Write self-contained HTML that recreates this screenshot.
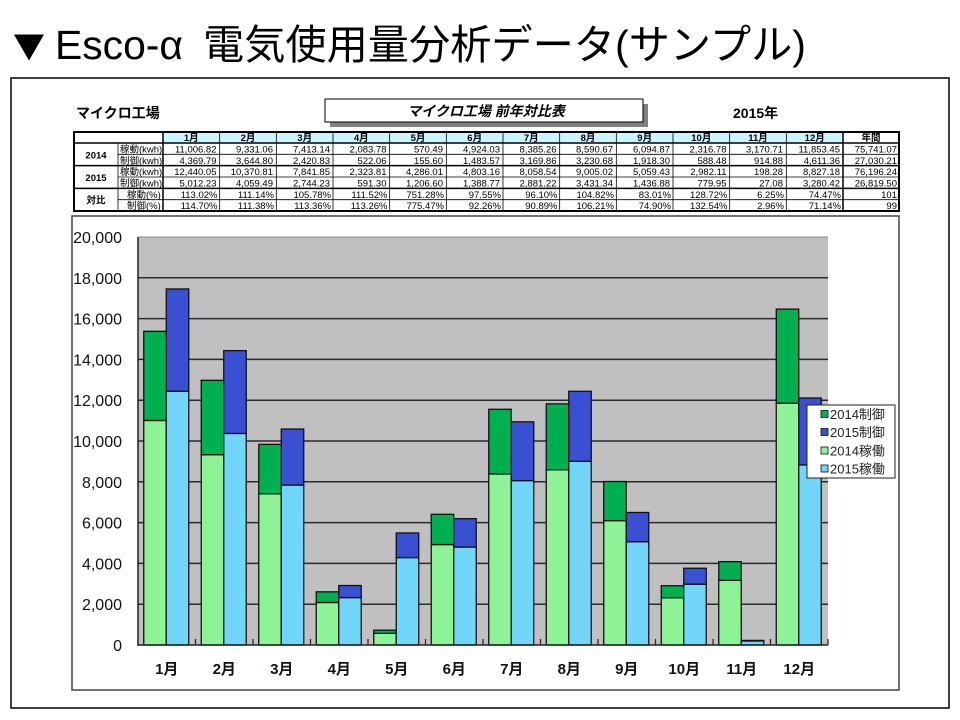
<!DOCTYPE html>
<html><head><meta charset="utf-8"><style>
html,body{margin:0;padding:0;background:#fff;}
svg{display:block;}
text{font-family:"Liberation Sans","Noto Sans CJK JP",sans-serif;}
</style></head><body>
<svg width="960" height="720" viewBox="0 0 960 720" xmlns="http://www.w3.org/2000/svg">
<rect width="960" height="720" fill="#fff"/>
<!-- Main title -->
<text x="13" y="58" font-size="32" fill="#000" style="font-family:'Noto Sans CJK JP',sans-serif">▼</text>
<text x="55" y="59" font-size="41" fill="#000" textLength="128" lengthAdjust="spacingAndGlyphs">Esco-α</text>
<text x="203" y="59" font-size="41" fill="#000" textLength="603" lengthAdjust="spacingAndGlyphs">電気使用量分析データ(サンプル)</text>

<!-- Outer frame -->
<rect x="11" y="78" width="938" height="630" fill="none" stroke="#000" stroke-width="1.5"/>

<!-- Header -->
<text x="76" y="118" font-size="14" font-weight="bold" fill="#000">マイクロ工場</text>
<rect x="330" y="104" width="318" height="23" fill="#808080"/>
<rect x="325" y="99" width="318" height="23" fill="#fff" stroke="#000" stroke-width="1"/>
<text x="486" y="116" font-size="14" font-weight="bold" font-style="italic" text-anchor="middle" fill="#000">マイクロ工場 前年対比表</text>
<text x="733" y="118" font-size="14" font-weight="bold" fill="#000">2015年</text>

<!-- Table -->
<g>
<rect x="163" y="132" width="680" height="11" fill="#ccf4ff"/>
<g stroke="#000" stroke-width="0.8" fill="none">
<line x1="118" y1="154.33" x2="899" y2="154.33"/>
<line x1="118" y1="177" x2="899" y2="177"/>
<line x1="118" y1="199.67" x2="899" y2="199.67"/>
<line x1="118" y1="143" x2="118" y2="211"/>
<line x1="219.67" y1="132" x2="219.67" y2="211"/>
<line x1="276.33" y1="132" x2="276.33" y2="211"/>
<line x1="333" y1="132" x2="333" y2="211"/>
<line x1="389.67" y1="132" x2="389.67" y2="211"/>
<line x1="446.33" y1="132" x2="446.33" y2="211"/>
<line x1="503" y1="132" x2="503" y2="211"/>
<line x1="559.67" y1="132" x2="559.67" y2="211"/>
<line x1="616.33" y1="132" x2="616.33" y2="211"/>
<line x1="673" y1="132" x2="673" y2="211"/>
<line x1="729.67" y1="132" x2="729.67" y2="211"/>
<line x1="786.33" y1="132" x2="786.33" y2="211"/>
</g>
<g stroke="#000" stroke-width="1.5" fill="none">
<line x1="74" y1="143" x2="899" y2="143"/>
<line x1="74" y1="165.67" x2="899" y2="165.67"/>
<line x1="74" y1="188.33" x2="899" y2="188.33"/>
<line x1="163" y1="132" x2="163" y2="211"/>
<line x1="843" y1="132" x2="843" y2="211"/>
<rect x="74" y="132" width="825" height="79" stroke-width="2"/>
</g>
<g font-size="9.5" font-weight="bold" text-anchor="middle" fill="#000">
<text x="191.3" y="141">1月</text><text x="248" y="141">2月</text><text x="304.7" y="141">3月</text><text x="361.3" y="141">4月</text><text x="418" y="141">5月</text><text x="474.7" y="141">6月</text><text x="531.3" y="141">7月</text><text x="588" y="141">8月</text><text x="644.7" y="141">9月</text><text x="701.3" y="141">10月</text><text x="758" y="141">11月</text><text x="814.7" y="141">12月</text><text x="871" y="141">年間</text>
<text x="96" y="158.5">2014</text><text x="96" y="181">2015</text><text x="96" y="203.5">対比</text>
</g>
<g font-size="9.5" fill="#000">
<text x="120" y="152.5">稼動(kwh)</text><text x="120" y="163.8">制御(kwh)</text><text x="120" y="175.2">稼動(kwh)</text><text x="120" y="186.5">制御(kwh)</text>
<text x="127" y="197.8">稼動(%)</text><text x="127" y="209.2">制御(%)</text>
</g>
<g font-size="9.5" text-anchor="end" fill="#000">
<text y="152.5"><tspan x="216.5">11,006.82</tspan><tspan x="273">9,331.06</tspan><tspan x="330">7,413.14</tspan><tspan x="386.5">2,083.78</tspan><tspan x="443">570.49</tspan><tspan x="500">4,924.03</tspan><tspan x="556.5">8,385.26</tspan><tspan x="613">8,590.67</tspan><tspan x="670">6,094.87</tspan><tspan x="726.5">2,316.78</tspan><tspan x="783">3,170.71</tspan><tspan x="840">11,853.45</tspan><tspan x="897">75,741.07</tspan></text>
<text y="163.8"><tspan x="216.5">4,369.79</tspan><tspan x="273">3,644.80</tspan><tspan x="330">2,420.83</tspan><tspan x="386.5">522.06</tspan><tspan x="443">155.60</tspan><tspan x="500">1,483.57</tspan><tspan x="556.5">3,169.86</tspan><tspan x="613">3,230.68</tspan><tspan x="670">1,918.30</tspan><tspan x="726.5">588.48</tspan><tspan x="783">914.88</tspan><tspan x="840">4,611.36</tspan><tspan x="897">27,030.21</tspan></text>
<text y="175.2"><tspan x="216.5">12,440.05</tspan><tspan x="273">10,370.81</tspan><tspan x="330">7,841.85</tspan><tspan x="386.5">2,323.81</tspan><tspan x="443">4,286.01</tspan><tspan x="500">4,803.16</tspan><tspan x="556.5">8,058.54</tspan><tspan x="613">9,005.02</tspan><tspan x="670">5,059.43</tspan><tspan x="726.5">2,982.11</tspan><tspan x="783">198.28</tspan><tspan x="840">8,827.18</tspan><tspan x="897">76,196.24</tspan></text>
<text y="186.5"><tspan x="216.5">5,012.23</tspan><tspan x="273">4,059.49</tspan><tspan x="330">2,744.23</tspan><tspan x="386.5">591.30</tspan><tspan x="443">1,206.60</tspan><tspan x="500">1,388.77</tspan><tspan x="556.5">2,881.22</tspan><tspan x="613">3,431.34</tspan><tspan x="670">1,436.88</tspan><tspan x="726.5">779.95</tspan><tspan x="783">27.08</tspan><tspan x="840">3,280.42</tspan><tspan x="897">26,819.50</tspan></text>
<text y="197.8"><tspan x="217.5">113.02%</tspan><tspan x="274">111.14%</tspan><tspan x="331">105.78%</tspan><tspan x="387.5">111.52%</tspan><tspan x="444">751.28%</tspan><tspan x="501">97.55%</tspan><tspan x="557.5">96.10%</tspan><tspan x="614">104.82%</tspan><tspan x="671">83.01%</tspan><tspan x="727.5">128.72%</tspan><tspan x="784">6.25%</tspan><tspan x="841">74.47%</tspan><tspan x="897">101</tspan></text>
<text y="209.2"><tspan x="217.5">114.70%</tspan><tspan x="274">111.38%</tspan><tspan x="331">113.36%</tspan><tspan x="387.5">113.26%</tspan><tspan x="444">775.47%</tspan><tspan x="501">92.26%</tspan><tspan x="557.5">90.89%</tspan><tspan x="614">106.21%</tspan><tspan x="671">74.90%</tspan><tspan x="727.5">132.54%</tspan><tspan x="784">2.96%</tspan><tspan x="841">71.14%</tspan><tspan x="897">99</tspan></text>
</g>
</g>

<!-- Chart box -->
<rect x="72" y="216" width="827" height="474" fill="#fff" stroke="#444" stroke-width="1.5"/>
<!-- Plot area -->
<rect x="138" y="237" width="690" height="408" fill="#c0c0c0"/>
<g stroke="#2a2a2a" stroke-width="1.5">
<line x1="138" y1="237" x2="828" y2="237" stroke="#888" stroke-width="1"/>
<line x1="138" y1="277.8" x2="828" y2="277.8"/>
<line x1="138" y1="318.6" x2="828" y2="318.6"/>
<line x1="138" y1="359.4" x2="828" y2="359.4"/>
<line x1="138" y1="400.2" x2="828" y2="400.2"/>
<line x1="138" y1="441" x2="828" y2="441"/>
<line x1="138" y1="481.8" x2="828" y2="481.8"/>
<line x1="138" y1="522.6" x2="828" y2="522.6"/>
<line x1="138" y1="563.4" x2="828" y2="563.4"/>
<line x1="138" y1="604.2" x2="828" y2="604.2"/>
</g>

<!-- Bars -->
<g stroke="#111" stroke-width="1.3">
<g fill="#8ef296">
<rect x="143.75" y="420.46" width="22.5" height="224.54"/>
<rect x="201.25" y="454.65" width="22.5" height="190.35"/>
<rect x="258.75" y="493.77" width="22.5" height="151.23"/>
<rect x="316.25" y="602.49" width="22.5" height="42.51"/>
<rect x="373.75" y="633.36" width="22.5" height="11.64"/>
<rect x="431.25" y="544.55" width="22.5" height="100.45"/>
<rect x="488.75" y="473.94" width="22.5" height="171.06"/>
<rect x="546.25" y="469.75" width="22.5" height="175.25"/>
<rect x="603.75" y="520.66" width="22.5" height="124.34"/>
<rect x="661.25" y="597.74" width="22.5" height="47.26"/>
<rect x="718.75" y="580.32" width="22.5" height="64.68"/>
<rect x="776.25" y="403.19" width="22.5" height="241.81"/>
</g>
<g fill="#00b050">
<rect x="143.75" y="331.32" width="22.5" height="89.14"/>
<rect x="201.25" y="380.30" width="22.5" height="74.35"/>
<rect x="258.75" y="444.38" width="22.5" height="49.39"/>
<rect x="316.25" y="591.84" width="22.5" height="10.65"/>
<rect x="373.75" y="630.19" width="22.5" height="3.17"/>
<rect x="431.25" y="514.29" width="22.5" height="30.26"/>
<rect x="488.75" y="409.27" width="22.5" height="64.67"/>
<rect x="546.25" y="403.84" width="22.5" height="65.91"/>
<rect x="603.75" y="481.53" width="22.5" height="39.13"/>
<rect x="661.25" y="585.73" width="22.5" height="12.01"/>
<rect x="718.75" y="561.66" width="22.5" height="18.66"/>
<rect x="776.25" y="309.12" width="22.5" height="94.07"/>
</g>
<g fill="#72d6fa">
<rect x="166.25" y="391.22" width="22.5" height="253.78"/>
<rect x="223.75" y="433.44" width="22.5" height="211.56"/>
<rect x="281.25" y="485.03" width="22.5" height="159.97"/>
<rect x="338.75" y="597.59" width="22.5" height="47.41"/>
<rect x="396.25" y="557.57" width="22.5" height="87.43"/>
<rect x="453.75" y="547.02" width="22.5" height="97.98"/>
<rect x="511.25" y="480.61" width="22.5" height="164.39"/>
<rect x="568.75" y="461.30" width="22.5" height="183.70"/>
<rect x="626.25" y="541.79" width="22.5" height="103.21"/>
<rect x="683.75" y="584.16" width="22.5" height="60.84"/>
<rect x="741.25" y="640.96" width="22.5" height="4.04"/>
<rect x="798.75" y="464.93" width="22.5" height="180.07"/>
</g>
<g fill="#3a50d2">
<rect x="166.25" y="288.97" width="22.5" height="102.25"/>
<rect x="223.75" y="350.63" width="22.5" height="82.81"/>
<rect x="281.25" y="429.05" width="22.5" height="55.98"/>
<rect x="338.75" y="585.53" width="22.5" height="12.06"/>
<rect x="396.25" y="532.96" width="22.5" height="24.61"/>
<rect x="453.75" y="518.69" width="22.5" height="28.33"/>
<rect x="511.25" y="421.83" width="22.5" height="58.78"/>
<rect x="568.75" y="391.30" width="22.5" height="70.00"/>
<rect x="626.25" y="512.48" width="22.5" height="29.31"/>
<rect x="683.75" y="568.25" width="22.5" height="15.91"/>
<rect x="741.25" y="640.41" width="22.5" height="0.55"/>
<rect x="798.75" y="398.01" width="22.5" height="66.92"/>
</g>
</g>

<!-- Axes -->
<g stroke="#222" stroke-width="1.5">
<line x1="138" y1="237" x2="138" y2="645.75"/>
<line x1="137.25" y1="645" x2="828" y2="645"/>
</g>
<g stroke="#222" stroke-width="1.2">
<line x1="195.5" y1="645" x2="195.5" y2="639"/>
<line x1="253" y1="645" x2="253" y2="639"/>
<line x1="310.5" y1="645" x2="310.5" y2="639"/>
<line x1="368" y1="645" x2="368" y2="639"/>
<line x1="425.5" y1="645" x2="425.5" y2="639"/>
<line x1="483" y1="645" x2="483" y2="639"/>
<line x1="540.5" y1="645" x2="540.5" y2="639"/>
<line x1="598" y1="645" x2="598" y2="639"/>
<line x1="655.5" y1="645" x2="655.5" y2="639"/>
<line x1="713" y1="645" x2="713" y2="639"/>
<line x1="770.5" y1="645" x2="770.5" y2="639"/>
<line x1="828" y1="645" x2="828" y2="639"/>
</g>

<!-- Y labels -->
<g font-size="16" text-anchor="end" fill="#111">
<text x="122" y="243">20,000</text>
<text x="122" y="283.8">18,000</text>
<text x="122" y="324.6">16,000</text>
<text x="122" y="365.4">14,000</text>
<text x="122" y="406.2">12,000</text>
<text x="122" y="447">10,000</text>
<text x="122" y="487.8">8,000</text>
<text x="122" y="528.6">6,000</text>
<text x="122" y="569.4">4,000</text>
<text x="122" y="610.2">2,000</text>
<text x="122" y="651">0</text>
</g>

<!-- X labels -->
<g font-size="15" font-weight="bold" text-anchor="middle" fill="#111">
<text x="166.75" y="674">1月</text>
<text x="224.25" y="674">2月</text>
<text x="281.75" y="674">3月</text>
<text x="339.25" y="674">4月</text>
<text x="396.75" y="674">5月</text>
<text x="454.25" y="674">6月</text>
<text x="511.75" y="674">7月</text>
<text x="569.25" y="674">8月</text>
<text x="626.75" y="674">9月</text>
<text x="684.25" y="674">10月</text>
<text x="741.75" y="674">11月</text>
<text x="799.25" y="674">12月</text>
</g>

<!-- Legend -->
<rect x="807" y="405" width="88" height="73" fill="#fff" stroke="#222" stroke-width="1"/>
<g stroke="#111" stroke-width="0.8">
<rect x="821" y="410.5" width="7" height="7" fill="#00b050"/>
<rect x="821" y="428.5" width="7" height="7" fill="#3a50d2"/>
<rect x="821" y="447" width="7" height="7" fill="#8ef296"/>
<rect x="821" y="465" width="7" height="7" fill="#72d6fa"/>
</g>
<g font-size="13" fill="#222">
<text x="830" y="419">2014制御</text>
<text x="830" y="437">2015制御</text>
<text x="830" y="455.5">2014稼働</text>
<text x="830" y="473.5">2015稼働</text>
</g>
</svg>
</body></html>
